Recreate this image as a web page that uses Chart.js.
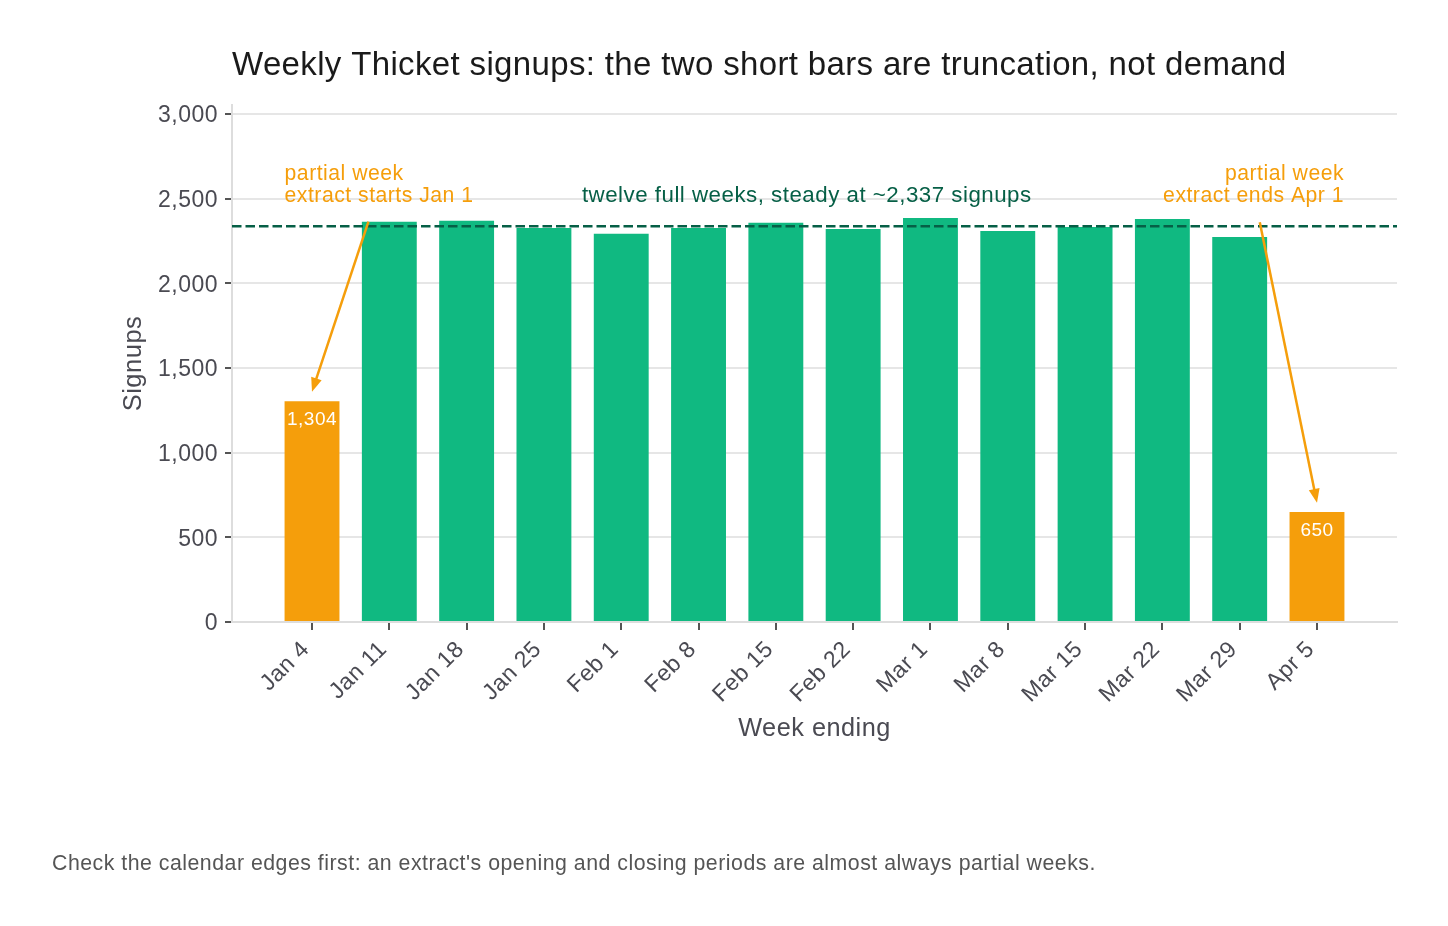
<!DOCTYPE html>
<html lang="en">
<head>
    <meta charset="UTF-8">
    <title>Weekly Thicket signups</title>
    <script src="https://cdn.jsdelivr.net/npm/chart.js"></script>
    <style>
        body {
            margin: 0;
            padding: 0;
            background: #fff;
        }
        #wrap {
            width: 1448px;
            height: 926px;
        }
    </style>
</head>
<body>
    <div id="wrap">
        <canvas id="signupsChart" width="1448" height="926"></canvas>
    </div>

    <script>
        // Data
        const weeks = ["Jan 4", "Jan 11", "Jan 18", "Jan 25", "Feb 1", "Feb 8", "Feb 15",
                       "Feb 22", "Mar 1", "Mar 8", "Mar 15", "Mar 22", "Mar 29", "Apr 5"];
        const signups = [1304, 2363, 2369, 2327, 2292, 2327, 2357, 2321, 2386, 2309, 2333, 2380, 2274, 650];
        const partialWeek = [true, false, false, false, false, false, false, false, false, false, false, false, false, true];
        const fullWeekMean = 2337;
        const yTicks = [0, 500, 1000, 1500, 2000, 2500, 3000];

        const GREEN = '#10b981';
        const ORANGE = '#f59e0b';
        const DARK_GREEN = '#065f46';
        const FONT = "'Liberation Sans', Arial, sans-serif";

        const fmt = (v) => v.toLocaleString('en-US');

        // helper: text with a bit of tracking, like the reference renderer
        function label(ctx, text, x, y, size, color, align, spacing) {
            ctx.font = `${size}px ${FONT}`;
            ctx.fillStyle = color;
            ctx.textAlign = align;
            ctx.letterSpacing = spacing + 'px';
            ctx.fillText(text, x, y);
        }

        // Draws title, axis titles, footnote, mean line and annotations
        const decorations = {
            id: 'decorations',
            beforeDraw(chart) {
                // tick labels in the reference are slightly tracked out
                chart.ctx.letterSpacing = '0.5px';
            },
            afterDatasetsDraw(chart) {
                const { ctx, chartArea, scales: { x, y } } = chart;
                ctx.save();

                // mean line of the twelve full weeks
                const yMean = y.getPixelForValue(fullWeekMean);
                ctx.strokeStyle = DARK_GREEN;
                ctx.lineWidth = 2.6;
                ctx.setLineDash([9.5, 4]);
                ctx.beginPath();
                ctx.moveTo(chartArea.left, yMean);
                ctx.lineTo(chartArea.right, yMean);
                ctx.stroke();
                ctx.setLineDash([]);

                // value labels inside the partial-week bars
                ctx.textBaseline = 'middle';
                signups.forEach((v, i) => {
                    if (!partialWeek[i]) return;
                    label(ctx, fmt(v), x.getPixelForValue(i), y.getPixelForValue(v) + 19, 19, '#fff', 'center', 0.5);
                });

                // arrows from notes to the partial bars
                const arrow = (x0, y0, x1, y1) => {
                    const px0 = x.getPixelForValue(x0), py0 = y.getPixelForValue(y0);
                    const px1 = x.getPixelForValue(x1), py1 = y.getPixelForValue(y1);
                    const ang = Math.atan2(py1 - py0, px1 - px0);
                    const c = Math.cos(ang), s = Math.sin(ang);
                    ctx.strokeStyle = ORANGE;
                    ctx.fillStyle = ORANGE;
                    ctx.lineWidth = 2.5;
                    ctx.beginPath();
                    ctx.moveTo(px0, py0);
                    ctx.lineTo(px1 - 9 * c, py1 - 9 * s);
                    ctx.stroke();
                    ctx.beginPath();
                    ctx.moveTo(px1, py1);
                    ctx.lineTo(px1 - 14 * c + 5.5 * s, py1 - 14 * s - 5.5 * c);
                    ctx.lineTo(px1 - 14 * c - 5.5 * s, py1 - 14 * s + 5.5 * c);
                    ctx.closePath();
                    ctx.fill();
                };
                arrow(0.73, 2364, 0.0, 1360);
                arrow(12.26, 2360, 13.0, 704);

                // note texts
                ctx.textBaseline = 'alphabetic';
                const noteY = y.getPixelForValue(2480);
                const lx = x.getPixelForValue(-0.355);
                const rx = x.getPixelForValue(13.35);
                label(ctx, 'partial week', lx, noteY - 22, 21.2, ORANGE, 'left', 0.5);
                label(ctx, 'extract starts Jan 1', lx, noteY, 21.2, ORANGE, 'left', 0.5);
                label(ctx, 'partial week', rx, noteY - 22, 21.2, ORANGE, 'right', 0.5);
                label(ctx, 'extract ends Apr 1', rx, noteY, 21.2, ORANGE, 'right', 0.5);
                label(ctx, 'twelve full weeks, steady at ~2,337 signups', x.getPixelForValue(6.4), noteY, 22.3, DARK_GREEN, 'center', 0.5);

                // chart title
                label(ctx, 'Weekly Thicket signups: the two short bars are truncation, not demand',
                      chartArea.left, 75, 33, '#1a1a1a', 'left', 0.35);

                // axis titles
                label(ctx, 'Week ending', (chartArea.left + chartArea.right) / 2, 736, 25.3, '#4a4a52', 'center', 0.5);
                ctx.save();
                ctx.translate(141, (chartArea.top + chartArea.bottom) / 2);
                ctx.rotate(-Math.PI / 2);
                label(ctx, 'Signups', 0, 0, 25.5, '#4a4a52', 'center', 0.5);
                ctx.restore();

                // footnote
                label(ctx, "Check the calendar edges first: an extract's opening and closing periods are almost always partial weeks.",
                      52, 870, 21.3, '#555', 'left', 0.5);

                ctx.restore();
            }
        };

        const signupsChart = new Chart(document.getElementById('signupsChart'), {
            type: 'bar',
            data: {
                datasets: [{
                    data: signups.map((v, i) => ({ x: i, y: v })),
                    backgroundColor: partialWeek.map(p => p ? ORANGE : GREEN),
                    borderWidth: 0,
                    categoryPercentage: 1,
                    barPercentage: 0.71
                }]
            },
            options: {
                responsive: false,
                devicePixelRatio: 1,
                animation: false,
                layout: { padding: { top: 105, left: 0, right: 51, bottom: 0 } },
                plugins: {
                    legend: { display: false },
                    tooltip: { enabled: false },
                    title: { display: false }
                },
                scales: {
                    x: {
                        type: 'linear',
                        offset: false,
                        min: -1.035,
                        max: 14.035,
                        afterBuildTicks: (scale) => {
                            scale.ticks = weeks.map((_, i) => ({ value: i }));
                        },
                        afterFit: (scale) => { scale.height = 304; },
                        ticks: {
                            autoSkip: false,
                            minRotation: 45,
                            maxRotation: 45,
                            padding: 6,
                            labelOffset: -6,
                            color: '#4a4a52',
                            font: { family: FONT, size: 23 },
                            callback: (v) => weeks[v]
                        },
                        grid: {
                            offset: false,
                            color: 'transparent',
                            tickColor: '#555',
                            tickLength: 8,
                            lineWidth: 2
                        },
                        border: { color: '#dddddd', width: 2 }
                    },
                    y: {
                        min: 0,
                        max: 3053,
                        afterBuildTicks: (scale) => {
                            scale.ticks = yTicks.map(v => ({ value: v }));
                        },
                        afterFit: (scale) => { scale.width = 232; },
                        ticks: {
                            padding: 7,
                            labelOffset: 2,
                            color: '#4a4a52',
                            font: { family: FONT, size: 23 },
                            callback: (v) => fmt(v)
                        },
                        grid: {
                            color: '#e6e6e6',
                            tickColor: '#555',
                            tickLength: 7,
                            lineWidth: 2
                        },
                        border: { color: '#dddddd', width: 2 }
                    }
                }
            },
            plugins: [decorations]
        });
    </script>
</body>
</html>
